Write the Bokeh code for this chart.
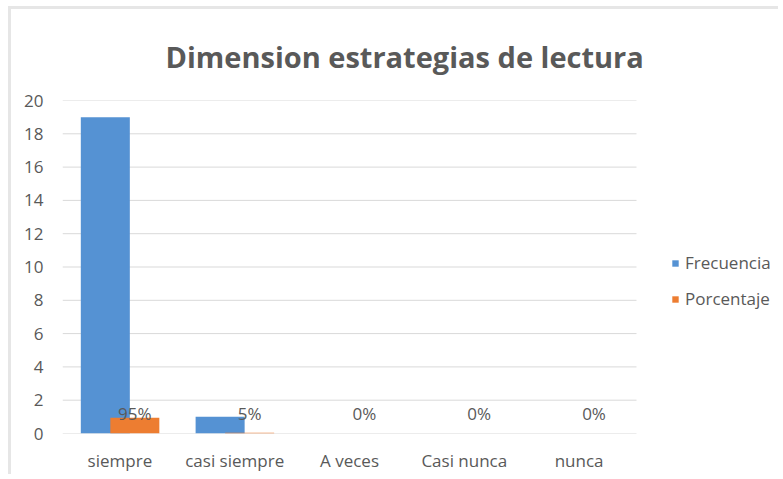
from bokeh.plotting import figure
from bokeh.models import ColumnDataSource, Legend, LegendItem, FixedTicker, Range1d
from bokeh.core.properties import value
from bokeh.embed import file_html
from bokeh.resources import INLINE

categories = ["siempre", "casi siempre", "A veces", "Casi nunca", "nunca"]
frecuencia = [19, 1, 0, 0, 0]
porcentaje = [0.95, 0.05, 0, 0, 0]
y_ticks = [0, 2, 4, 6, 8, 10, 12, 14, 16, 18, 20]

pct_labels = [f"{round(v * 100)}%" for v in porcentaje]
centers = [i + 0.5 for i in range(len(categories))]
n_cat = len(categories)

FONT = "Open Sans"
GRAY = "#595959"
BAR_W = 0.427
OFF_F = -0.127
OFF_P = 0.13

src = ColumnDataSource(dict(
    xf=[c + OFF_F for c in centers], xp=[c + OFF_P for c in centers],
    frec=frecuencia, pct=porcentaje, lab=pct_labels, base=[0] * n_cat))

p = figure(x_range=Range1d(0, 6.263), y_range=Range1d(0, 20), width=770, height=468,
           output_backend="svg", toolbar_location=None,
           min_border_left=51, min_border_right=0, min_border_top=90,
           min_border_bottom=44)
# light chart-area border on the top and left edges
p.styles = {"margin-left": "11px", "margin-top": "9px",
            "box-shadow": "-3px -3px 0 0 #e6e6e6"}
p.outline_line_color = None
p.background_fill_color = "white"
p.border_fill_color = "white"

p.title.text = "Dimension estrategias de lectura"
p.title.text_font = FONT
p.title.text_font_style = "bold"
p.title.text_font_size = "29px"
p.title.text_color = GRAY
p.title.align = "left"
p.title.offset = 103
p.title.standoff = 50

# horizontal grid lines limited to the category area
p.segment(x0=[0] * len(y_ticks), x1=[n_cat] * len(y_ticks), y0=y_ticks, y1=y_ticks,
          line_color="#d9d9d9", line_width=1)

r1 = p.vbar(x="xf", top="frec", width=BAR_W, source=src,
            fill_color="#5592d3", line_color=None)
r2 = p.vbar(x="xp", top="pct", width=BAR_W, source=src,
            fill_color="#ed7d31", line_color=None)

p.text(x="xp", y="base", text="lab", source=src,
       text_align="center", text_baseline="bottom", y_offset=-9,
       text_font=value(FONT), text_font_size="17px", text_color=GRAY)

p.xgrid.grid_line_color = None
p.ygrid.grid_line_color = None

p.yaxis.ticker = FixedTicker(ticks=y_ticks)
p.yaxis.axis_line_color = None
p.yaxis.major_tick_line_color = None
p.yaxis.minor_tick_line_color = None
p.yaxis.major_label_standoff = 13
p.yaxis.major_label_text_font = FONT
p.yaxis.major_label_text_font_size = "17px"
p.yaxis.major_label_text_color = GRAY

p.xaxis.ticker = FixedTicker(ticks=centers)
p.xaxis.major_label_overrides = {c: name for c, name in zip(centers, categories)}
p.xaxis.axis_line_color = None
p.xaxis.major_tick_line_color = None
p.xaxis.minor_tick_line_color = None
p.xaxis.major_label_standoff = 9
p.xaxis.major_label_text_font = FONT
p.xaxis.major_label_text_font_size = "17px"
p.xaxis.major_label_text_color = GRAY

legend = Legend(items=[LegendItem(label="Frecuencia", renderers=[r1]),
                       LegendItem(label="Porcentaje", renderers=[r2])],
                location=(609, 123), orientation="vertical",
                glyph_width=8, glyph_height=8, label_height=20, label_standoff=6,
                spacing=13, padding=0, margin=0,
                border_line_color=None, background_fill_alpha=0,
                label_text_font=FONT, label_text_font_size="17px",
                label_text_color=GRAY)
p.add_layout(legend, "center")

open("out.html", "w").write(file_html(p, INLINE))
